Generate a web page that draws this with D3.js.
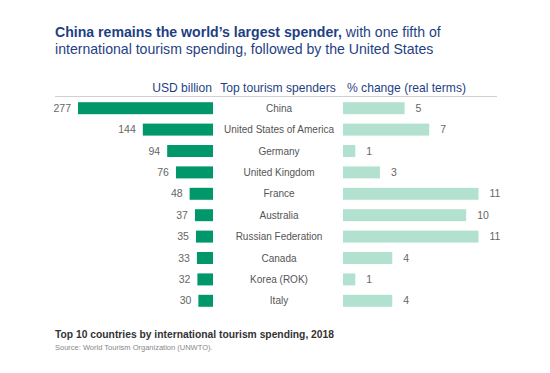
<!DOCTYPE html>
<meta charset="utf-8">
<script src="https://d3js.org/d3.v7.min.js"></script>
<style>
  body { margin: 0; background: #fff; }
  text { font-family: "Liberation Sans", Arial, sans-serif; }
</style>
<div id="my_dataviz"></div>
<script>

// data
var countries = ["China", "United States of America", "Germany", "United Kingdom", "France",
                 "Australia", "Russian Federation", "Canada", "Korea (ROK)", "Italy"];
var spending = [277, 144, 94, 76, 48, 37, 35, 33, 32, 30];
var change = [5, 7, 1, 3, 11, 10, 11, 4, 1, 4];

var width = 550, height = 373;

var svg = d3.select("#my_dataviz")
  .append("svg")
    .attr("width", width)
    .attr("height", height);

// title
var title = svg.append("text")
  .attr("x", 55)
  .attr("y", 37)
  .attr("font-size", 14.1)
  .attr("fill", "#1f3f84");
title.append("tspan").attr("font-weight", "bold").text("China remains the world\u2019s largest spender,");
title.append("tspan").text(" with one fifth of");
svg.append("text")
  .attr("x", 55)
  .attr("y", 54)
  .attr("font-size", 14.1)
  .attr("fill", "#1f3f84")
  .text("international tourism spending, followed by the United States");

// headers
var headY = 91.5;
svg.append("text").attr("x", 212).attr("y", headY).attr("text-anchor", "end")
  .attr("font-size", 12.1).attr("fill", "#1f3f84").text("USD billion");
svg.append("text").attr("x", 278).attr("y", headY).attr("text-anchor", "middle")
  .attr("font-size", 12.1).attr("fill", "#1f3f84").text("Top tourism spenders");
svg.append("text").attr("x", 347).attr("y", headY).attr("text-anchor", "start")
  .attr("font-size", 12.1).attr("fill", "#1f3f84").text("% change (real terms)");
svg.append("line")
  .attr("x1", 55).attr("x2", 497)
  .attr("y1", 96.5).attr("y2", 96.5)
  .attr("stroke", "#d0d0d0").attr("stroke-width", 1);

// band scale for rows
var y = d3.scaleBand()
  .domain(countries)
  .range([97.5, 311.5])
  .paddingInner(0.44)
  .paddingOuter(0.22);

// left bars (USD billion), growing leftward from x=213
var xl = d3.scaleLinear()
  .domain([0, 277])
  .range([213, 78]);

svg.append("g").selectAll("rect")
  .data(spending)
  .join("rect")
    .attr("x", function(d) { return xl(d) })
    .attr("y", function(d, i) { return y(countries[i]) })
    .attr("width", function(d) { return xl(0) - xl(d) })
    .attr("height", y.bandwidth())
    .attr("fill", "#00976a");

svg.append("g").selectAll("text")
  .data(spending)
  .join("text")
    .attr("x", function(d) { return xl(d) - 7 })
    .attr("y", function(d, i) { return y(countries[i]) + y.bandwidth() / 2 })
    .attr("dy", "0.35em")
    .attr("text-anchor", "end")
    .attr("font-size", 10.5)
    .attr("fill", "#666")
    .text(function(d) { return d });

// country labels
svg.append("g").selectAll("text")
  .data(countries)
  .join("text")
    .attr("x", 279)
    .attr("y", function(d) { return y(d) + y.bandwidth() / 2 })
    .attr("dy", "0.35em")
    .attr("text-anchor", "middle")
    .attr("font-size", 10)
    .attr("fill", "#555")
    .text(function(d) { return d });

// right bars (% change)
var xr = d3.scaleLinear()
  .domain([0, 11])
  .range([343, 478.5]);

svg.append("g").selectAll("rect")
  .data(change)
  .join("rect")
    .attr("x", xr(0))
    .attr("y", function(d, i) { return y(countries[i]) })
    .attr("width", function(d) { return xr(d) - xr(0) })
    .attr("height", y.bandwidth())
    .attr("fill", "#b2e2cf");

svg.append("g").selectAll("text")
  .data(change)
  .join("text")
    .attr("x", function(d) { return xr(d) + 11 })
    .attr("y", function(d, i) { return y(countries[i]) + y.bandwidth() / 2 })
    .attr("dy", "0.35em")
    .attr("text-anchor", "start")
    .attr("font-size", 10.5)
    .attr("fill", "#666")
    .text(function(d) { return d });

// footer
svg.append("text")
  .attr("x", 55).attr("y", 338)
  .attr("font-size", 10.3).attr("font-weight", "bold").attr("fill", "#333")
  .text("Top 10 countries by international tourism spending, 2018");
svg.append("text")
  .attr("x", 55).attr("y", 350)
  .attr("font-size", 7.5).attr("fill", "#888")
  .text("Source: World Tourism Organization (UNWTO).");

</script>
